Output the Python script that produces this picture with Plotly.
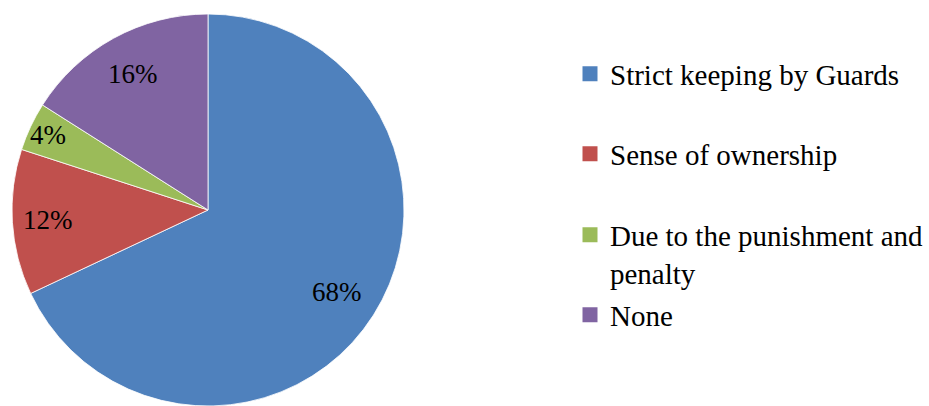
import math
import plotly.graph_objects as go

categories = ["Strict keeping by Guards", "Sense of ownership",
              "Due to the punishment and penalty", "None"]
legend_labels = ["Strict keeping by Guards", "Sense of ownership",
                 "Due to the punishment and<br>penalty", "None"]
values = [68, 12, 4, 16]
colors = ["#4F81BD", "#C0504D", "#9BBB59", "#8064A2"]
label_radius = [0.78, 0.82, 0.90, 0.79]  # label distance from centre (fraction of radius)

FONT = "Liberation Serif"
W, H = 929, 406
CX, CY, R = 208, 210, 196  # pie centre / radius in px

fig = go.Figure()
fig.add_trace(go.Pie(
    labels=categories, values=values, sort=False, direction="clockwise",
    rotation=0, marker=dict(colors=colors, line=dict(color="white", width=0.8)),
    textinfo="none", showlegend=False, hoverinfo="label+percent",
    domain=dict(x=[(CX - R) / W, (CX + R) / W], y=[0, 2 * R / H]),
))

# percentage labels placed at each slice's mid-angle
total = sum(values)
cum = 0
for v, f in zip(values, label_radius):
    mid = (cum + v / 2) / total * 2 * math.pi
    cum += v
    px = CX + R * f * math.sin(mid)
    py = CY - R * f * math.cos(mid)
    fig.add_annotation(
        x=px / W, y=1 - py / H, xref="paper", yref="paper",
        xanchor="center", yanchor="middle",
        text=f"{round(100 * v / total)}%", showarrow=False,
        font=dict(family=FONT, size=27, color="black"),
    )

# legend entries (one legend per item so spacing matches the reference)
legend_y_px = [74, 154, 254, 315]
for i, (lab, col) in enumerate(zip(legend_labels, colors)):
    name = "legend" if i == 0 else f"legend{i+1}"
    fig.add_trace(go.Scatter(
        x=[None], y=[None], mode="markers", name=lab,
        marker=dict(symbol="square", size=15, color=col),
        legend=name, showlegend=True,
    ))
    fig.update_layout(**{name: dict(
        x=570 / W, xanchor="left", y=1 - legend_y_px[i] / H, yanchor="middle",
        font=dict(family=FONT, size=29, color="black"),
        bgcolor="rgba(0,0,0,0)", borderwidth=0, valign="top",
    )})

fig.update_layout(
    width=W, height=H, margin=dict(l=0, r=0, t=0, b=0),
    paper_bgcolor="white", plot_bgcolor="white",
    xaxis=dict(visible=False), yaxis=dict(visible=False),
)

fig.write_html("out.html")
